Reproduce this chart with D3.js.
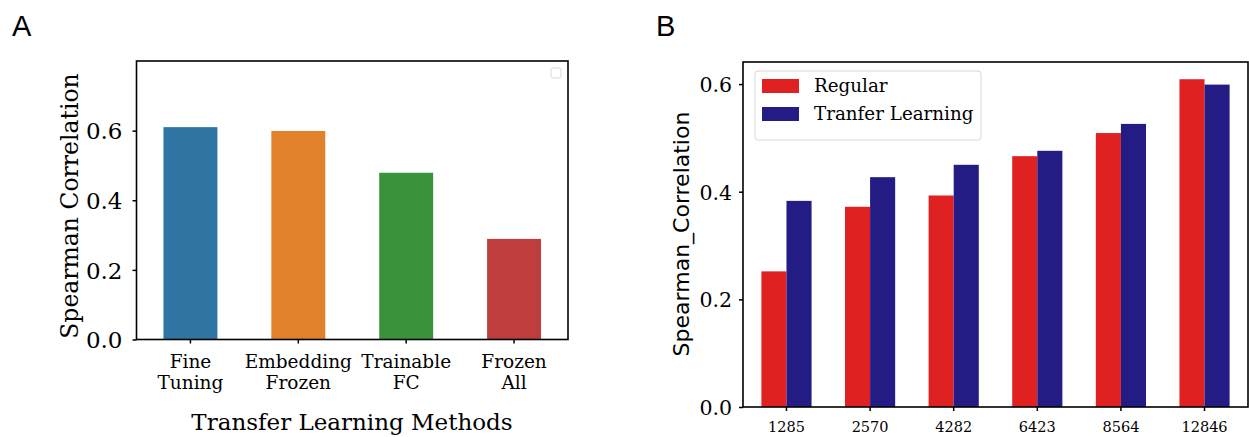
<!DOCTYPE html>
<html>
<head>
<meta charset="utf-8">
<script src="https://cdn.jsdelivr.net/npm/d3@7"></script>
<style>
  body { margin: 0; background: #fff; }
  svg { display: block; }
  .tick text { font-family: "DejaVu Serif", serif; fill: #000; }
  .tick line { stroke: #000; stroke-width: 1.5; }
</style>
</head>
<body>
<svg id="chart"></svg>
<script>
// panel A data
const methods = [["Fine", "Tuning"], ["Embedding", "Frozen"], ["Trainable", "FC"], ["Frozen", "All"]];
const methodValues = [0.610, 0.599, 0.479, 0.289];
const methodColors = ["#2e75a3", "#e1812c", "#3a923a", "#c03d3e"];
const yTicksA = [0, 0.2, 0.4, 0.6];

// panel B data
const sizes = ["1285", "2570", "4282", "6423", "8564", "12846"];
const regular = [0.252, 0.372, 0.393, 0.466, 0.509, 0.609];
const transfer = [0.383, 0.427, 0.450, 0.476, 0.526, 0.599];
const seriesNames = ["Regular", "Tranfer Learning"];
const seriesColors = ["#e02121", "#231c84"];
const yTicksB = [0, 0.2, 0.4, 0.6];

const W = 1249, H = 437;
const svg = d3.select("#chart").attr("width", W).attr("height", H);

// ---------- panel A ----------
const a = {left: 136.5, right: 568, top: 61, bottom: 339.5};

const xA = d3.scaleBand()
  .domain(d3.range(methods.length))
  .range([a.left, a.right])
  .paddingInner(0.5)
  .paddingOuter(0.25);

const yA = d3.scaleLinear().domain([0, 0.8]).range([a.bottom, a.top]);

svg.selectAll(".barA")
  .data(methodValues)
  .enter()
  .append("rect")
  .attr("class", "barA")
  .attr("x", (d, i) => xA(i))
  .attr("width", xA.bandwidth())
  .attr("y", d => yA(d))
  .attr("height", d => yA(0) - yA(d))
  .attr("fill", (d, i) => methodColors[i]);

let gyA = svg.append("g")
  .attr("transform", "translate(" + a.left + ",0)")
  .call(d3.axisLeft(yA).tickValues(yTicksA).tickFormat(d3.format(".1f")).tickSize(4).tickPadding(10));
gyA.select(".domain").remove();
gyA.selectAll("text").style("font-size", "23px").attr("dy", "0.36em");

let gxA = svg.append("g")
  .attr("transform", "translate(0," + a.bottom + ")")
  .call(d3.axisBottom(xA).tickSize(4).tickFormat(""));
gxA.select(".domain").remove();

// two line category labels
methods.forEach((lines, i) => {
  let cx = xA(i) + xA.bandwidth() / 2;
  let t = svg.append("text")
    .attr("x", cx)
    .attr("y", 368)
    .attr("text-anchor", "middle")
    .style("font-family", "DejaVu Serif, serif")
    .style("font-size", "18.5px");
  lines.forEach((l, k) => {
    t.append("tspan").attr("x", cx).attr("dy", k == 0 ? 0 : 20.5).text(l);
  });
});

svg.append("rect")
  .attr("x", a.left).attr("y", a.top)
  .attr("width", a.right - a.left).attr("height", a.bottom - a.top)
  .attr("fill", "none").attr("stroke", "#000").attr("stroke-width", 1.6);

// empty legend box
svg.append("rect")
  .attr("x", 551).attr("y", 68).attr("width", 10).attr("height", 10)
  .attr("rx", 2).attr("fill", "#fff").attr("stroke", "#d8d8d8").attr("stroke-width", 1);

svg.append("text")
  .attr("transform", "translate(78,206) rotate(-90)")
  .attr("text-anchor", "middle")
  .style("font-family", "DejaVu Serif, serif")
  .style("font-size", "23.5px")
  .text("Spearman Correlation");

svg.append("text")
  .attr("x", 352).attr("y", 430)
  .attr("text-anchor", "middle")
  .style("font-family", "DejaVu Serif, serif")
  .style("font-size", "23px")
  .text("Transfer Learning Methods");

svg.append("text")
  .attr("x", 12).attr("y", 36)
  .style("font-family", "Liberation Sans, Arial, sans-serif")
  .style("font-size", "29px")
  .text("A");

// ---------- panel B ----------
const b = {left: 743, right: 1248, top: 62, bottom: 407};

const xB = d3.scaleBand()
  .domain(sizes)
  .range([b.left, b.right])
  .paddingInner(0.4)
  .paddingOuter(0.22);

const xSub = d3.scaleBand().domain(seriesNames).range([0, xB.bandwidth()]);

const yB = d3.scaleLinear().domain([0, 0.641]).range([b.bottom, b.top]);

const series = [regular, transfer];
series.forEach((vals, s) => {
  svg.selectAll(".barB" + s)
    .data(vals)
    .enter()
    .append("rect")
    .attr("class", "barB" + s)
    .attr("x", (d, i) => xB(sizes[i]) + xSub(seriesNames[s]))
    .attr("width", xSub.bandwidth())
    .attr("y", d => yB(d))
    .attr("height", d => yB(0) - yB(d))
    .attr("fill", seriesColors[s]);
});

let gyB = svg.append("g")
  .attr("transform", "translate(" + b.left + ",0)")
  .call(d3.axisLeft(yB).tickValues(yTicksB).tickFormat(d3.format(".1f")).tickSize(4).tickPadding(7));
gyB.select(".domain").remove();
gyB.selectAll("text").style("font-size", "20.5px").attr("dy", "0.36em");

let gxB = svg.append("g")
  .attr("transform", "translate(0," + b.bottom + ")")
  .call(d3.axisBottom(xB).tickSize(4).tickPadding(11));
gxB.select(".domain").remove();
gxB.selectAll("text").style("font-size", "14.5px");

svg.append("rect")
  .attr("x", b.left).attr("y", b.top)
  .attr("width", b.right - b.left).attr("height", b.bottom - b.top)
  .attr("fill", "none").attr("stroke", "#000").attr("stroke-width", 1.6);

// legend
let legend = svg.append("g");
legend.append("rect")
  .attr("x", 755).attr("y", 71).attr("width", 226).attr("height", 69)
  .attr("rx", 3).attr("fill", "#fff").attr("fill-opacity", 0.8)
  .attr("stroke", "#d6d6d6").attr("stroke-width", 1);
seriesNames.forEach((n, i) => {
  legend.append("rect")
    .attr("x", 762).attr("y", 79 + i * 28).attr("width", 37).attr("height", 14)
    .attr("fill", seriesColors[i]);
  legend.append("text")
    .attr("x", 814).attr("y", 92 + i * 28)
    .style("font-family", "DejaVu Serif, serif")
    .style("font-size", "18.3px")
    .text(n);
});

svg.append("text")
  .attr("transform", "translate(689,234) rotate(-90)")
  .attr("text-anchor", "middle")
  .style("font-family", "DejaVu Sans, sans-serif")
  .style("font-size", "22px")
  .text("Spearman_Correlation");

svg.append("text")
  .attr("x", 656).attr("y", 36)
  .style("font-family", "Liberation Sans, Arial, sans-serif")
  .style("font-size", "29px")
  .text("B");
</script>
</body>
</html>
